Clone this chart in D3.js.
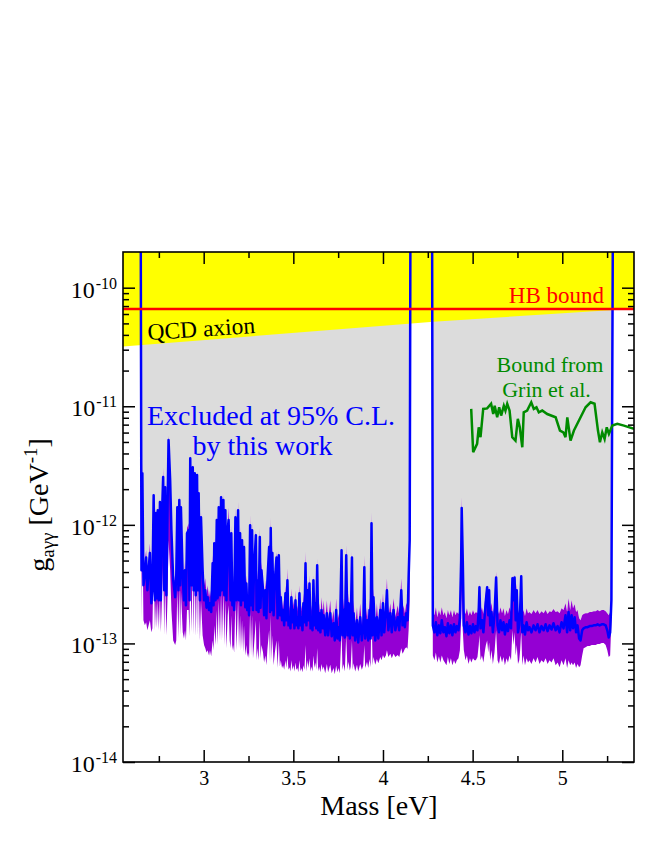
<!DOCTYPE html>
<html>
<head>
<meta charset="utf-8">
<script src="https://cdn.jsdelivr.net/npm/d3@7"></script>
<style>
  body { margin: 0; background: #fff; }
  svg { display: block; }
</style>
</head>
<body>
<div id="chart"></div>
<script>
// coupling values are in units of 1e-13 GeV^-1 (3000 = spike leaving the frame)
const UNIT = 1e-13;

const seg1Mass = [2.649, 2.653, 2.658, 2.664, 2.672, 2.679, 2.686, 2.693, 2.700, 2.708, 2.714, 2.721, 2.728, 2.734, 2.739, 2.744, 2.750, 2.756, 2.761, 2.767, 2.774, 2.780, 2.785, 2.792, 2.798, 2.804, 2.813, 2.820, 2.830, 2.841, 2.847, 2.853, 2.859, 2.864, 2.869, 2.873, 2.883, 2.890, 2.896, 2.901, 2.907, 2.916, 2.921, 2.925, 2.932, 2.939, 2.944, 2.950, 2.956, 2.963, 2.968, 2.972, 2.979, 2.985, 2.994, 3.002, 3.009, 3.016, 3.022, 3.030, 3.035, 3.042, 3.050, 3.055, 3.059, 3.066, 3.073, 3.078, 3.084, 3.091, 3.097, 3.102, 3.110, 3.115, 3.121, 3.127, 3.134, 3.139, 3.145, 3.150, 3.154, 3.160, 3.164, 3.170, 3.177, 3.183, 3.192, 3.197, 3.203, 3.208, 3.214, 3.220, 3.225, 3.232, 3.238, 3.243, 3.247, 3.253, 3.259, 3.264, 3.270, 3.275, 3.281, 3.291, 3.295, 3.299, 3.306, 3.313, 3.317, 3.322, 3.331, 3.337, 3.344, 3.350, 3.355, 3.365, 3.370, 3.374, 3.379, 3.383, 3.390, 3.397, 3.406, 3.412, 3.419, 3.425, 3.430, 3.437, 3.443, 3.449, 3.456, 3.461, 3.467, 3.473, 3.478, 3.484, 3.489, 3.495, 3.501, 3.506, 3.512, 3.517, 3.523, 3.528, 3.534, 3.540, 3.545, 3.551, 3.556, 3.562, 3.568, 3.573, 3.579, 3.584, 3.590, 3.596, 3.601, 3.607, 3.612, 3.618, 3.623, 3.628, 3.633, 3.639, 3.644, 3.651, 3.657, 3.664, 3.669, 3.678, 3.687, 3.694, 3.706, 3.714, 3.724, 3.731, 3.739, 3.746, 3.752, 3.759, 3.769, 3.774, 3.780, 3.787, 3.795, 3.802, 3.808, 3.815, 3.820, 3.827, 3.831, 3.836, 3.845, 3.855, 3.862, 3.873, 3.882, 3.890, 3.896, 3.901, 3.911, 3.918, 3.925, 3.931, 3.936, 3.942, 3.947, 3.957, 3.966, 3.974, 3.985, 3.992, 4.000, 4.007, 4.016, 4.022, 4.030, 4.041, 4.049, 4.059, 4.069, 4.082, 4.091, 4.102, 4.109, 4.115, 4.122, 4.130, 4.137, 4.143, 4.149, 4.153];
const seg1Med = [3000, 4.15, 27.2, 3.10, 3.76, 5.3, 2.81, 4.15, 5.8, 2.18, 2.81, 17.8, 2.31, 12.6, 2.41, 13.3, 2.31, 15.6, 2.31, 11.6, 25.3, 2.81, 20.8, 2.55, 12.1, 51.9, 23.8, 9.02, 3.41, 2.45, 3.76, 14.1, 2.81, 16.2, 3.10, 14.1, 3.6, 2.31, 4.15, 2.10, 8.5, 9.02, 2.31, 36.5, 3.10, 30.6, 2.81, 27.3, 2.55, 26.3, 2.81, 18.5, 2.31, 11.6, 4.15, 2.31, 2.81, 2.0, 2.45, 1.91, 2.18, 1.84, 4.75, 2.10, 7.0, 2.31, 11.0, 2.41, 14.1, 2.55, 17.1, 2.81, 16.2, 2.55, 13.3, 2.31, 9.02, 11.0, 4.15, 2.31, 8.5, 2.10, 3.10, 1.91, 11.6, 2.31, 13.3, 2.31, 8.5, 2.10, 7.43, 2.31, 6.5, 2.02, 3.2, 1.91, 2.45, 1.73, 9.94, 2.10, 9.02, 1.91, 4.15, 8.18, 1.91, 3.41, 1.84, 7.9, 2.0, 4.15, 2.81, 1.73, 2.81, 1.63, 3.3, 6.5, 1.84, 9.4, 1.91, 5.8, 1.73, 3.41, 5.3, 1.63, 5.55, 1.73, 2.45, 1.57, 1.91, 1.42, 2.65, 1.57, 3.41, 1.42, 1.66, 1.34, 2.45, 1.51, 1.91, 1.34, 2.31, 1.42, 1.66, 1.34, 2.65, 1.42, 1.66, 1.29, 2.18, 1.51, 4.75, 1.42, 2.81, 1.57, 3.2, 1.34, 1.66, 1.29, 3.41, 1.42, 2.18, 1.34, 4.57, 1.29, 1.80, 1.24, 1.91, 1.34, 1.73, 1.17, 1.80, 1.17, 1.80, 1.15, 1.48, 1.06, 1.91, 1.10, 1.37, 1.06, 6.11, 1.17, 1.91, 1.12, 5.55, 1.17, 2.18, 1.10, 1.42, 5.3, 1.17, 1.80, 1.06, 1.57, 1.02, 1.66, 1.06, 1.34, 4.4, 1.10, 1.57, 1.06, 1.91, 1.10, 10.3, 1.17, 2.45, 1.06, 1.66, 1.10, 1.91, 1.17, 2.18, 1.24, 1.84, 2.81, 1.29, 1.80, 1.24, 1.91, 1.29, 1.66, 1.29, 2.81, 1.42, 1.66, 1.37, 1.80, 1.57, 3.6, 7.43, 3000];
const seg1Up = [3000, 5.04, 33, 4.0, 5.04, 6.11, 3.76, 5.04, 7.0, 3.10, 3.76, 18.8, 3.41, 13.9, 3.41, 14.7, 3.10, 17.1, 3.10, 13.3, 30.1, 3.76, 23.8, 3.41, 13.3, 57.1, 26.3, 11.0, 4.3, 3.10, 4.57, 15.3, 3.76, 17.8, 4.15, 16.2, 4.57, 3.10, 5.04, 2.81, 9.4, 10.3, 3.10, 40.3, 4.15, 33.8, 3.76, 30.1, 3.41, 29.0, 3.76, 20.4, 3.10, 12.8, 5.04, 3.10, 3.55, 2.55, 3.10, 2.45, 2.81, 2.41, 5.55, 2.81, 7.7, 2.9, 12.1, 3.10, 15.3, 3.3, 18.5, 3.55, 18.1, 3.3, 14.7, 2.9, 9.94, 14.1, 5.04, 2.81, 9.94, 2.7, 3.76, 2.41, 14.1, 2.81, 15.6, 2.81, 9.6, 2.7, 8.18, 2.81, 7.43, 2.55, 3.76, 2.41, 3.10, 2.31, 12.1, 2.7, 10.6, 2.41, 4.85, 9.02, 2.41, 4.15, 2.31, 9.4, 2.45, 4.85, 3.41, 2.18, 3.41, 2.10, 4.0, 7.43, 2.31, 11.5, 2.41, 6.74, 2.18, 4.0, 5.9, 2.10, 6.11, 2.18, 2.9, 1.98, 2.31, 1.84, 3.10, 1.98, 4.3, 1.84, 2.10, 1.73, 2.9, 1.91, 2.31, 1.73, 2.81, 1.84, 2.10, 1.73, 3.10, 1.84, 2.10, 1.66, 2.65, 1.91, 5.9, 1.84, 3.41, 1.98, 3.76, 1.73, 2.10, 1.66, 3.76, 1.84, 2.65, 1.73, 5.2, 1.66, 2.18, 1.63, 2.45, 1.77, 2.31, 1.57, 2.31, 1.57, 2.31, 1.51, 1.91, 1.42, 2.41, 1.48, 1.80, 1.42, 6.5, 1.57, 2.41, 1.51, 6.74, 1.57, 2.65, 1.48, 1.84, 5.9, 1.51, 2.31, 1.42, 2.02, 1.37, 2.18, 1.42, 1.73, 5.55, 1.48, 2.02, 1.42, 2.41, 1.48, 12.8, 1.57, 2.9, 1.42, 2.18, 1.48, 2.41, 1.57, 2.65, 1.63, 2.31, 3.55, 1.66, 2.18, 1.63, 2.41, 1.66, 2.10, 1.73, 3.55, 1.84, 2.10, 1.80, 2.2, 2.02, 4.15, 9.02, 3000];
const seg1Lo = [3000, 1.57, 11.0, 1.57, 1.42, 1.51, 1.29, 1.42, 1.57, 1.24, 1.34, 5.04, 1.29, 2.31, 1.34, 2.31, 1.29, 2.81, 1.24, 2.31, 5.04, 1.17, 3.41, 1.17, 2.31, 7.43, 4.15, 1.91, 1.06, 0.97, 1.06, 2.81, 1.10, 3.10, 1.17, 2.81, 1.24, 1.10, 1.29, 1.06, 1.91, 1.91, 1.15, 6.11, 1.24, 5.04, 1.19, 4.57, 1.15, 4.15, 1.17, 3.41, 1.06, 2.31, 1.17, 0.97, 0.91, 0.84, 0.875, 0.79, 0.875, 0.78, 1.06, 0.875, 1.42, 0.97, 1.91, 0.97, 2.31, 1.06, 2.81, 1.06, 2.81, 0.97, 2.31, 0.91, 1.73, 2.10, 1.06, 0.91, 1.73, 0.875, 0.97, 0.84, 2.31, 0.875, 2.41, 0.91, 1.73, 0.875, 1.57, 0.84, 1.42, 0.79, 0.97, 0.77, 0.84, 0.75, 1.91, 0.79, 1.73, 0.75, 0.97, 1.57, 0.72, 0.91, 0.72, 1.57, 0.75, 0.97, 0.84, 0.69, 0.79, 0.654, 0.875, 1.29, 0.69, 1.73, 0.72, 1.17, 0.654, 0.84, 1.06, 0.62, 1.06, 0.64, 0.72, 0.62, 0.654, 0.60, 0.72, 0.62, 0.79, 0.60, 0.63, 0.58, 0.72, 0.60, 0.654, 0.58, 0.69, 0.60, 0.62, 0.57, 0.72, 0.58, 0.62, 0.57, 0.654, 0.60, 0.97, 0.58, 0.72, 0.62, 0.75, 0.58, 0.64, 0.58, 0.79, 0.62, 0.69, 0.60, 0.91, 0.58, 0.64, 0.57, 0.67, 0.60, 0.64, 0.56, 0.67, 0.57, 0.66, 0.56, 0.62, 0.55, 0.65, 0.57, 0.62, 0.56, 1.29, 0.60, 0.67, 0.58, 1.17, 0.60, 0.70, 0.59, 0.64, 1.06, 0.60, 0.68, 0.58, 0.66, 0.58, 0.67, 0.60, 0.65, 0.97, 0.62, 0.70, 0.62, 0.74, 0.63, 2.10, 0.65, 0.77, 0.66, 0.74, 0.68, 0.77, 0.72, 0.80, 0.75, 0.79, 0.875, 0.77, 0.82, 0.75, 0.82, 0.77, 0.80, 0.77, 0.91, 0.82, 0.85, 0.90, 0.93, 0.90, 1.29, 2.31, 3000];

const seg2Mass = [4.274, 4.278, 4.287, 4.295, 4.303, 4.312, 4.320, 4.328, 4.337, 4.345, 4.354, 4.362, 4.370, 4.379, 4.387, 4.396, 4.404, 4.412, 4.421, 4.429, 4.436, 4.439, 4.445, 4.451, 4.460, 4.468, 4.477, 4.485, 4.493, 4.502, 4.510, 4.518, 4.527, 4.534, 4.538, 4.544, 4.552, 4.560, 4.569, 4.574, 4.581, 4.587, 4.592, 4.598, 4.605, 4.613, 4.622, 4.631, 4.639, 4.647, 4.655, 4.664, 4.672, 4.680, 4.689, 4.697, 4.706, 4.714, 4.722, 4.728, 4.734, 4.740, 4.746, 4.753, 4.760, 4.765, 4.771, 4.777, 4.784, 4.792, 4.801, 4.809, 4.817, 4.828, 4.840, 4.851, 4.862, 4.873, 4.884, 4.896, 4.907, 4.918, 4.929, 4.940, 4.951, 4.963, 4.974, 4.985, 4.996, 5.007, 5.018, 5.027, 5.035, 5.044, 5.052, 5.060, 5.069, 5.077, 5.085, 5.094, 5.102, 5.111, 5.119, 5.130, 5.141, 5.153, 5.164, 5.175, 5.186, 5.197, 5.208, 5.220, 5.231, 5.242, 5.251, 5.259, 5.267, 5.274, 5.282];
const seg2Med = [3000, 1.42, 1.24, 1.51, 1.17, 1.42, 1.22, 1.57, 1.24, 1.37, 1.15, 1.48, 1.22, 1.42, 1.17, 1.45, 1.24, 1.40, 1.29, 1.63, 5.04, 13.9, 5.04, 1.42, 1.24, 1.51, 1.19, 1.40, 1.22, 1.45, 1.24, 1.40, 1.29, 1.91, 2.98, 1.34, 1.57, 1.24, 1.84, 2.31, 2.98, 1.73, 2.81, 1.42, 1.84, 1.24, 1.73, 3.6, 1.42, 1.24, 1.57, 1.29, 1.51, 1.19, 1.45, 1.27, 1.57, 1.34, 3.55, 2.31, 3.6, 1.57, 2.81, 1.24, 1.42, 1.91, 3.69, 1.24, 1.42, 1.19, 1.51, 1.29, 1.37, 1.24, 1.42, 1.29, 1.45, 1.24, 1.40, 1.29, 1.45, 1.27, 1.42, 1.31, 1.48, 1.29, 1.40, 1.24, 1.51, 1.34, 1.73, 1.24, 1.84, 1.29, 1.73, 1.34, 1.66, 1.24, 1.42, 1.10, 1.06, 1.29, 1.34, 1.37, 1.37, 1.40, 1.40, 1.42, 1.42, 1.45, 1.42, 1.45, 1.45, 1.42, 1.29, 1.12, 1.24, 2.31, 3000];
const seg2Up = [3000, 1.91, 1.73, 2.02, 1.66, 1.91, 1.73, 2.02, 1.73, 1.84, 1.63, 1.91, 1.73, 1.91, 1.66, 1.91, 1.73, 1.84, 1.77, 2.02, 6.11, 17.1, 6.11, 1.91, 1.77, 1.98, 1.70, 1.87, 1.73, 1.91, 1.77, 1.84, 1.80, 2.31, 3.2, 1.84, 2.02, 1.77, 2.31, 2.7, 3.10, 2.18, 3.04, 1.91, 2.2, 1.77, 2.10, 4.0, 1.91, 1.77, 2.02, 1.80, 1.98, 1.70, 1.91, 1.77, 2.02, 1.84, 3.76, 2.81, 3.83, 2.02, 3.2, 1.77, 1.91, 2.31, 3.83, 1.73, 1.91, 1.70, 1.98, 1.80, 1.84, 1.77, 1.91, 1.80, 1.91, 1.77, 1.87, 1.80, 1.91, 1.77, 1.87, 1.84, 1.95, 1.84, 1.87, 1.80, 1.98, 1.91, 2.18, 1.84, 2.41, 1.91, 2.31, 1.98, 2.14, 1.84, 1.91, 1.63, 1.57, 1.73, 1.77, 1.80, 1.80, 1.84, 1.84, 1.87, 1.87, 1.91, 1.87, 1.91, 1.91, 1.87, 1.80, 1.73, 1.84, 2.81, 3000];
const seg2Lo = [3000, 0.79, 0.72, 0.84, 0.69, 0.78, 0.69, 0.79, 0.72, 0.69, 0.654, 0.77, 0.67, 0.75, 0.654, 0.72, 0.67, 0.72, 0.75, 0.875, 1.57, 2.81, 1.29, 0.875, 0.72, 0.79, 0.67, 0.75, 0.69, 0.75, 0.72, 0.72, 0.77, 0.97, 1.17, 0.72, 0.79, 0.69, 0.875, 0.97, 1.06, 0.84, 1.02, 0.72, 0.875, 0.67, 0.84, 1.29, 0.72, 0.67, 0.79, 0.69, 0.77, 0.654, 0.75, 0.69, 0.79, 0.72, 1.29, 0.97, 1.24, 0.79, 0.97, 0.67, 0.72, 0.875, 1.29, 0.654, 0.79, 0.654, 0.75, 0.69, 0.72, 0.67, 0.75, 0.69, 0.77, 0.67, 0.72, 0.69, 0.75, 0.67, 0.72, 0.69, 0.75, 0.654, 0.69, 0.63, 0.72, 0.654, 0.75, 0.62, 0.72, 0.654, 0.69, 0.654, 0.69, 0.62, 0.67, 0.63, 0.654, 0.79, 0.91, 0.93, 0.95, 0.95, 0.97, 0.97, 0.97, 0.99, 0.99, 1.01, 1.01, 0.97, 0.875, 0.77, 0.79, 1.57, 3000];

// Grin et al. bound, units of 1e-12 GeV^-1
const grinMass = [4.492, 4.503, 4.525, 4.534, 4.544, 4.559, 4.581, 4.603, 4.615, 4.623, 4.637, 4.648, 4.659, 4.674, 4.683, 4.693, 4.706, 4.721, 4.739, 4.752, 4.763, 4.777, 4.785, 4.804, 4.827, 4.841, 4.856, 4.869, 4.888, 4.916, 4.963, 4.987, 5.006, 5.018, 5.028, 5.046, 5.065, 5.102, 5.130, 5.158, 5.180, 5.199, 5.210, 5.223, 5.236, 5.248, 5.260, 5.279, 5.307, 5.344, 5.400];
const grinG = [9.5, 4.09, 4.82, 6.65, 5.48, 9.5, 9.6, 10.5, 8.6, 10.1, 8.07, 9.8, 8.35, 10.1, 9.2, 10.5, 9.2, 5.48, 5.13, 7.83, 6.65, 4.51, 8.9, 9.2, 10.8, 9.5, 9.8, 8.9, 9.2, 8.6, 8.07, 6.24, 6.03, 5.48, 8.07, 5.13, 6.24, 8.07, 9.8, 10.8, 10.5, 6.24, 4.97, 6.03, 5.31, 6.65, 5.85, 6.87, 7.1, 6.87, 6.45];

// QCD axion band edge and HB bound, GeV^-1
const qcdMass = [2.55, 3.985, 4.281, 5.287, 5.4];
const qcdG = [3.19e-11, 4.75e-11, 5.17e-11, 6.49e-11, 6.67e-11];
const hbG = 6.6e-11;

const xMajor = [3, 3.5, 4, 4.5, 5];
const xMinor = [2.75, 3.25, 3.75, 4.25, 4.75, 5.25];
const xLabels = ["3", "3.5", "4", "4.5", "5"];
const yDecades = [-14, -13, -12, -11, -10];

const FONT = "'Liberation Serif', 'Times New Roman', Times, serif";
const svgW = 669, svgH = 865;
const pLeft = 123, pRight = 634, pTop = 252, pBottom = 762;

const svg = d3.select("#chart").append("svg")
  .attr("width", svgW).attr("height", svgH)
  .style("font-family", FONT);

const x = d3.scaleLinear().domain([2.55, 5.4]).range([pLeft, pRight]);
const y = d3.scaleLog().domain([1e-14, 2e-10]).range([pBottom, pTop]);

svg.append("clipPath").attr("id", "plot-clip")
  .append("rect").attr("x", pLeft).attr("y", pTop)
  .attr("width", pRight - pLeft).attr("height", pBottom - pTop);

const plot = svg.append("g").attr("clip-path", "url(#plot-clip)");

function rows(mass, med, up, lo) {
  return mass.map((m, i) => ({ m, med: med[i] * UNIT, up: up[i] * UNIT, lo: lo[i] * UNIT }));
}
const segments = [
  rows(seg1Mass, seg1Med, seg1Up, seg1Lo),
  rows(seg2Mass, seg2Med, seg2Up, seg2Lo),
];

// excluded region: from the upper band edge to the top (yellow covers the rest)
const grayArea = d3.area()
  .x((d) => x(d.m))
  .y0((d) => y(d.up))
  .y1(pTop - 30);
for (const seg of segments) {
  plot.append("path").datum(seg).attr("d", grayArea).attr("fill", "#dcdcdc");
}

// QCD axion region
const qcd = qcdMass.map((m, i) => ({ m, g: qcdG[i] }));
plot.append("path").datum(qcd)
  .attr("d", d3.area().x((d) => x(d.m)).y0(pTop - 30).y1((d) => y(d.g)))
  .attr("fill", "#ffff00");

const band = d3.area()
  .x((d) => x(d.m))
  .y0((d) => y(d.lo))
  .y1((d) => y(d.up));
const medLine = d3.line().x((d) => x(d.m)).y((d) => y(d.med));

for (const seg of segments) {
  plot.append("path").datum(seg).attr("d", band).attr("fill", "#9400d3");
}
for (const seg of segments) {
  plot.append("path").datum(seg).attr("d", medLine)
    .attr("fill", "none").attr("stroke", "#0000ff")
    .attr("stroke-width", 2.5).attr("stroke-linejoin", "round");
}

const grin = grinMass.map((m, i) => ({ m, g: grinG[i] * 1e-12 }));
plot.append("path").datum(grin)
  .attr("d", d3.line().x((d) => x(d.m)).y((d) => y(d.g)))
  .attr("fill", "none").attr("stroke", "#008b00").attr("stroke-width", 2.5);

plot.append("line")
  .attr("x1", pLeft).attr("x2", pRight)
  .attr("y1", y(hbG)).attr("y2", y(hbG))
  .attr("stroke", "#ff0000").attr("stroke-width", 2.5);

// axes (ticks point inward on all four sides)
const yMajor = yDecades.map((e) => Math.pow(10, e));
const yMinor = [];
for (const e of yDecades) {
  for (let k = 2; k <= 9; k++) {
    const v = k * Math.pow(10, e);
    if (v < 2e-10) yMinor.push(v);
  }
}

function styleAxis(g) {
  g.attr("font-family", FONT);
  g.select(".domain").remove();
  g.selectAll("line").attr("stroke", "#000").attr("stroke-width", 1.5);
  g.selectAll("text").attr("font-family", FONT).attr("font-size", 20).attr("fill", "#000");
}

svg.append("g").attr("transform", `translate(0,${pBottom})`)
  .call(d3.axisBottom(x).tickValues(xMajor).tickSize(-12).tickPadding(9)
    .tickFormat((d, i) => xLabels[i]))
  .call(styleAxis);
svg.append("g").attr("transform", `translate(0,${pBottom})`)
  .call(d3.axisBottom(x).tickValues(xMinor).tickSize(-6).tickFormat(""))
  .call(styleAxis);
svg.append("g").attr("transform", `translate(0,${pTop})`)
  .call(d3.axisTop(x).tickValues(xMajor).tickSize(-12).tickFormat(""))
  .call(styleAxis);
svg.append("g").attr("transform", `translate(0,${pTop})`)
  .call(d3.axisTop(x).tickValues(xMinor).tickSize(-6).tickFormat(""))
  .call(styleAxis);

svg.append("g").attr("transform", `translate(${pLeft},0)`)
  .call(d3.axisLeft(y).tickValues(yMajor).tickSize(-12).tickFormat(""))
  .call(styleAxis);
svg.append("g").attr("transform", `translate(${pLeft},0)`)
  .call(d3.axisLeft(y).tickValues(yMinor).tickSize(-6).tickFormat(""))
  .call(styleAxis);
svg.append("g").attr("transform", `translate(${pRight},0)`)
  .call(d3.axisRight(y).tickValues(yMajor).tickSize(-12).tickFormat(""))
  .call(styleAxis);
svg.append("g").attr("transform", `translate(${pRight},0)`)
  .call(d3.axisRight(y).tickValues(yMinor).tickSize(-6).tickFormat(""))
  .call(styleAxis);

svg.append("rect")
  .attr("x", pLeft).attr("y", pTop)
  .attr("width", pRight - pLeft).attr("height", pBottom - pTop)
  .attr("fill", "none").attr("stroke", "#000").attr("stroke-width", 1.6);

// y tick labels 10^n
const yLab = svg.append("g").attr("font-family", FONT).attr("fill", "#000");
for (const e of yDecades) {
  const t = yLab.append("text")
    .attr("x", 117).attr("y", y(Math.pow(10, e)) + 10)
    .attr("text-anchor", "end").attr("font-size", 24);
  t.append("tspan").text("10");
  t.append("tspan").attr("font-size", 16).attr("dx", 1).attr("dy", -9).text(String(e));
}

// axis titles
svg.append("text")
  .attr("x", 379).attr("y", 815)
  .attr("text-anchor", "middle")
  .attr("font-family", FONT).attr("font-size", 28)
  .text("Mass [eV]");

const yt = svg.append("text")
  .attr("transform", "translate(48,505) rotate(-90)")
  .attr("text-anchor", "middle")
  .attr("font-family", FONT).attr("font-size", 28);
yt.append("tspan").text("g");
yt.append("tspan").attr("font-size", 19).attr("dy", 6).text("aγγ");
yt.append("tspan").attr("dy", -6).text(" [GeV");
yt.append("tspan").attr("font-size", 19).attr("dy", -11).text("-1");
yt.append("tspan").attr("dy", 11).text("]");

// annotations
const notes = svg.append("g").attr("font-family", FONT);
notes.append("text")
  .attr("x", 604).attr("y", 303)
  .attr("text-anchor", "end").attr("font-size", 23)
  .attr("fill", "#ff0000").text("HB bound");
notes.append("text")
  .attr("transform", "translate(148,340) rotate(-3.7)")
  .attr("font-size", 23.5).attr("fill", "#000").text("QCD axion");
notes.append("text")
  .attr("x", 271).attr("y", 425)
  .attr("text-anchor", "middle").attr("font-size", 28)
  .attr("fill", "#0000ff").text("Excluded at 95% C.L.");
notes.append("text")
  .attr("x", 262.5).attr("y", 455)
  .attr("text-anchor", "middle").attr("font-size", 28)
  .attr("fill", "#0000ff").text("by this work");
notes.append("text")
  .attr("x", 550).attr("y", 372)
  .attr("text-anchor", "middle").attr("font-size", 22)
  .attr("fill", "#008b00").text("Bound from");
notes.append("text")
  .attr("x", 546.5).attr("y", 397)
  .attr("text-anchor", "middle").attr("font-size", 22)
  .attr("fill", "#008b00").text("Grin et al.");
</script>
</body>
</html>
